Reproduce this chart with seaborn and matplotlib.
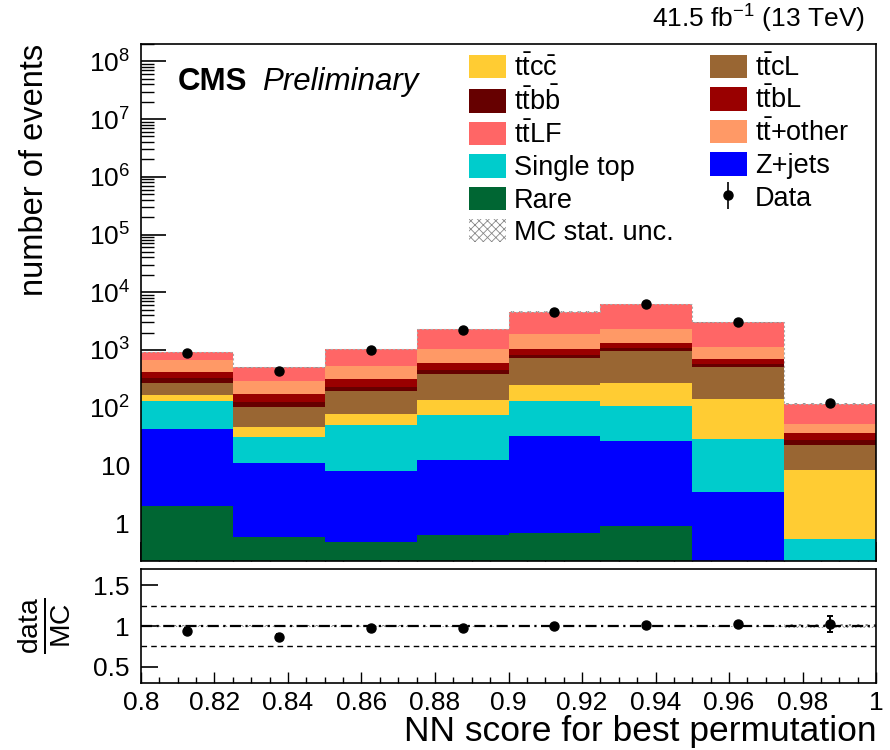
import numpy as np
import pandas as pd
import matplotlib
matplotlib.use("Agg")
import matplotlib.pyplot as plt
from matplotlib.patches import Patch
from matplotlib.ticker import FixedLocator, FuncFormatter, MultipleLocator, NullFormatter, NullLocator, LogLocator
import seaborn as sns

sns.set_theme(style="ticks")
plt.rcParams["font.family"] = ["Liberation Sans", "DejaVu Sans"]
plt.rcParams["mathtext.fontset"] = "custom"
plt.rcParams["mathtext.rm"] = "Liberation Sans"
plt.rcParams["mathtext.it"] = "Liberation Sans:italic"
plt.rcParams["mathtext.bf"] = "Liberation Sans:bold"
plt.rcParams["hatch.linewidth"] = 0.6
for key in ["text.color", "axes.labelcolor", "xtick.color", "ytick.color", "axes.edgecolor"]:
    plt.rcParams[key] = "black"

# Binning of the NN score
bin_edges = [0.800, 0.825, 0.850, 0.875, 0.900, 0.925, 0.950, 0.975, 1.000]

# Expected yields per process (stacked bottom to top)
rare       = [1.97, 0.57, 0.475, 0.62, 0.66, 0.875, 0.0, 0.0]
z_jets     = [41.0, 10.2, 7.4, 11.7, 32.0, 26.0, 3.5, 0.0]
single_top = [86.0, 20.2, 42.0, 63.0, 98.0, 79.0, 25.5, 0.52]
ttcc       = [35.0, 15.0, 29.0, 60.0, 114.0, 163.0, 113.0, 7.8]
ttcl       = [102.0, 56.0, 114.0, 245.0, 484.0, 671.0, 355.0, 14.4]
ttbb       = [58.0, 24.0, 31.0, 66.0, 82.0, 120.0, 63.0, 5.3]
ttbl       = [88.0, 45.0, 88.0, 136.0, 231.0, 265.0, 142.0, 8.0]
tt_other   = [244.0, 117.0, 211.0, 448.0, 833.0, 965.0, 414.0, 16.0]
tt_lf      = [269.0, 209.0, 507.0, 1260.0, 2755.0, 3910.0, 1874.0, 64.0]

# Observed events
data_counts = [870, 430, 1000, 2230, 4620, 6300, 3070, 119]

# Relative MC statistical uncertainty per bin
mc_stat_rel = [0.010, 0.012, 0.008, 0.006, 0.005, 0.005, 0.006, 0.020]

process_names = [r"Rare", r"Z+jets", r"Single top", r"$\mathrm{t\bar{t}c\bar{c}}$",
                 r"$\mathrm{t\bar{t}cL}$", r"$\mathrm{t\bar{t}b\bar{b}}$",
                 r"$\mathrm{t\bar{t}bL}$", r"$\mathrm{t\bar{t}}$+other",
                 r"$\mathrm{t\bar{t}LF}$"]
process_yields = [rare, z_jets, single_top, ttcc, ttcl, ttbb, ttbl, tt_other, tt_lf]
process_colors = ["#006633", "#0000FF", "#00CCCC", "#FFCC33", "#996633",
                  "#660000", "#990000", "#FF9966", "#FF6666"]

edges = np.array(bin_edges)
centers = 0.5 * (edges[:-1] + edges[1:])

rows = []
for name, yields in zip(process_names, process_yields):
    for c, w in zip(centers, yields):
        rows.append({"score": float(c), "events": float(w), "process": name})
df = pd.DataFrame(rows)

mc_total = np.sum(np.array(process_yields), axis=0)
data = np.array(data_counts, dtype=float)
data_err = np.sqrt(data)

fig = plt.figure(figsize=(8.9, 7.5), dpi=100)
ax = fig.add_axes([0.1584, 0.252, 0.8259, 0.6893])
axr = fig.add_axes([0.1584, 0.0893, 0.8259, 0.152])

# seaborn stacks the first hue level on top, so list processes top-down
sns.histplot(data=df, x="score", weights="events", hue="process",
             hue_order=process_names[::-1], palette=dict(zip(process_names, process_colors)),
             multiple="stack", bins=list(bin_edges), element="bars", fill=True, alpha=1.0,
             linewidth=0, legend=False, ax=ax)
ax.set_yscale("log")

# MC statistical uncertainty band
unc = mc_total * np.array(mc_stat_rel)
lo = mc_total - unc
hi = mc_total + unc
ax.fill_between(edges, np.append(lo, lo[-1]), np.append(hi, hi[-1]), step="post",
                facecolor="none", edgecolor="#888888", hatch="xxxx", linewidth=0)
ax.step(edges, np.append(mc_total, mc_total[-1]), where="post",
        color="#aaaaaa", linewidth=0.8, linestyle=(0, (2, 2)))

data_handle = ax.errorbar(centers, data, yerr=data_err, fmt="o", color="black",
                          markersize=6.5, elinewidth=1.2, capsize=0, zorder=5, label="Data")

ax.set_xlim(0.8, 1.0)
ax.set_ylim(0.22, 2e8)
ax.set_xlabel("")
ax.set_ylabel("number of events", fontsize=23.5, loc="top")
ax.yaxis.set_label_coords(-0.124, 1.0)

def log_label(v, pos):
    if v <= 0:
        return ""
    e = int(round(np.log10(v)))
    if e == 0:
        return "1"
    if e == 1:
        return "10"
    return r"$10^{%d}$" % e

ax.yaxis.set_major_locator(FixedLocator([10.0 ** k for k in range(0, 9)]))
ax.yaxis.set_minor_locator(LogLocator(base=10, subs=np.arange(2, 10), numticks=50))
ax.yaxis.set_major_formatter(FuncFormatter(log_label))
ax.yaxis.set_minor_formatter(NullFormatter())
ax.xaxis.set_major_locator(MultipleLocator(0.02))
ax.xaxis.set_minor_locator(MultipleLocator(0.005))
ax.xaxis.set_major_formatter(NullFormatter())
ax.tick_params(axis="both", which="both", direction="in", top=False, right=False,
               left=True, bottom=True, labelsize=19, colors="black")
ax.tick_params(axis="y", which="major", length=18, width=1.2, pad=8)
ax.tick_params(axis="y", which="minor", length=9, width=1.0)
ax.tick_params(axis="x", which="major", length=14, width=1.2)
ax.tick_params(axis="x", which="minor", length=7, width=1.0)
for s in ax.spines.values():
    s.set_color("black")
    s.set_linewidth(1.2)

ax.text(0.05, 0.955, "CMS", transform=ax.transAxes, fontsize=22.5,
        fontweight="bold", va="top", ha="left")
ax.text(0.165, 0.955, "Preliminary", transform=ax.transAxes, fontsize=22.5,
        fontstyle="italic", va="top", ha="left")
fig.text(0.972, 0.9627, r"41.5 fb$^{-1}$ (13 TeV)", fontsize=19, ha="right", va="baseline")

# Legend
color_of = dict(zip(process_names, process_colors))
def patch(name):
    return Patch(facecolor=color_of[name], edgecolor="none", label=name)

handles = [patch(process_names[3]), patch(process_names[5]), patch(process_names[8]),
           patch(process_names[2]), patch(process_names[0]),
           Patch(facecolor="white", edgecolor="#888888", hatch="xxxx", linewidth=0,
                 label="MC stat. unc."),
           patch(process_names[4]), patch(process_names[6]), patch(process_names[7]),
           patch(process_names[1]), data_handle]
ax.legend(handles=handles, ncol=2, loc="upper left", bbox_to_anchor=(0.428, 1.006),
          frameon=False, fontsize=19.5, borderpad=0, handlelength=1.35,
          handleheight=0.95, handletextpad=0.3, columnspacing=1.35, labelspacing=0.2)

# Ratio panel
ratio = data / mc_total
ratio_err = data_err / mc_total
rel = np.array(mc_stat_rel)
axr.fill_between(edges, np.append(1 - rel, (1 - rel)[-1]), np.append(1 + rel, (1 + rel)[-1]),
                 step="post", facecolor="none", edgecolor="#888888", hatch="xxxx", linewidth=0)
for yv in [0.75, 1.25]:
    axr.axhline(yv, color="black", linestyle=(0, (4, 3)), linewidth=1.0)
axr.axhline(1.0, color="black", linestyle=(0, (5, 2, 1, 2)), linewidth=1.6)
axr.errorbar(centers, ratio, yerr=ratio_err, fmt="o", color="black", markersize=6.5,
             elinewidth=1.4, capsize=2.5, capthick=1.4, zorder=5)
axr.set_xlim(0.8, 1.0)
axr.set_ylim(0.3, 1.7)
axr.yaxis.set_major_locator(FixedLocator([0.5, 1.0, 1.5]))
axr.yaxis.set_minor_locator(NullLocator())
axr.yaxis.set_major_formatter(FuncFormatter(lambda v, p: "%g" % v))
axr.xaxis.set_major_locator(MultipleLocator(0.02))
axr.xaxis.set_minor_locator(MultipleLocator(0.005))
axr.xaxis.set_major_formatter(FuncFormatter(lambda v, p: "%g" % round(v, 3)))
axr.tick_params(axis="both", which="both", direction="in", top=False, right=False,
                left=True, bottom=True, labelsize=19, colors="black")
axr.tick_params(axis="y", which="major", length=12, width=1.2, pad=8)
axr.tick_params(axis="x", which="major", length=8, width=1.0, pad=6)
axr.tick_params(axis="x", which="minor", length=4, width=1.0)
for s in axr.spines.values():
    s.set_color("black")
    s.set_linewidth(1.2)
axr.set_xlabel("NN score for best permutation", fontsize=25.5, loc="right", labelpad=0)
axr.set_ylabel(r"$\frac{\mathrm{data}}{\mathrm{MC}}$", fontsize=29)
axr.yaxis.set_label_coords(-0.093, 0.5)

fig.savefig("out.png", dpi=100)
